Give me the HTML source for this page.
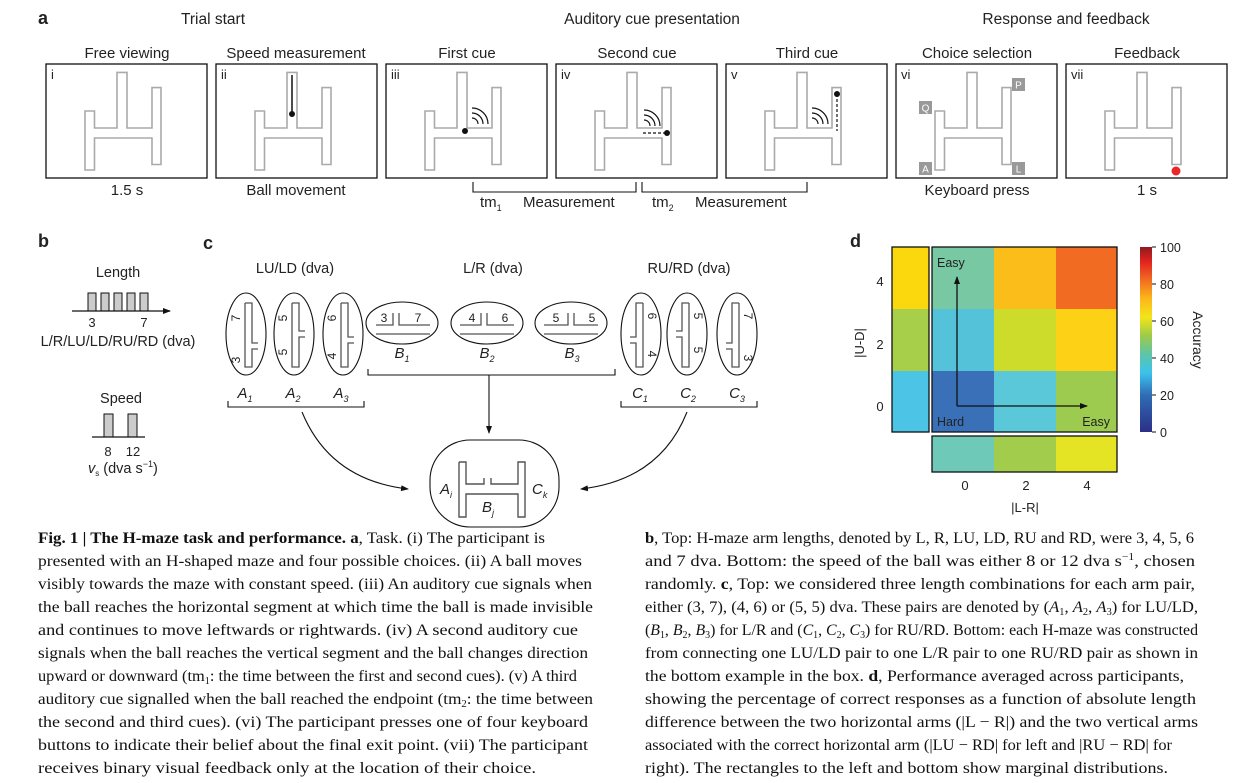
<!DOCTYPE html>
<html><head><meta charset="utf-8"><style>
html,body{margin:0;padding:0;background:#fff;}
svg{display:block;}
text{font-family:"Liberation Sans",sans-serif;fill:#222;}
.cap{font-family:"Liberation Serif",serif;font-size:16px;fill:#111;}
</style></head><body>
<svg width="1254" height="783" viewBox="0 0 1254 783" xmlns="http://www.w3.org/2000/svg">
<defs>
<g id="maze"><path d="M39,47 H48.5 V64 H71 V8.4 H81 V64 H106 V23.6 H115 V100.5 H106 V74 H48.5 V106 H39 Z" fill="none" stroke="#aaa" stroke-width="1.6"/></g>
<g id="waves" fill="none" stroke="#111" stroke-width="1.2"><path d="M0,-6 A6,6 0 0 1 6,0"/><path d="M0,-11 A11,11 0 0 1 11,0"/><path d="M0,-16 A16,16 0 0 1 16,0"/></g>
<marker id="ah" markerWidth="8" markerHeight="8" refX="7" refY="4" orient="auto" markerUnits="userSpaceOnUse"><path d="M0,1 L8,4 L0,7 Z" fill="#111"/></marker>
<linearGradient id="cb" x1="0" y1="1" x2="0" y2="0">
<stop offset="0" stop-color="#2b2f86"/><stop offset="0.2" stop-color="#2f6db5"/><stop offset="0.32" stop-color="#3cc3ec"/><stop offset="0.42" stop-color="#5ec4a8"/><stop offset="0.52" stop-color="#9ccb4a"/><stop offset="0.62" stop-color="#f2e51a"/><stop offset="0.72" stop-color="#fbb81a"/><stop offset="0.82" stop-color="#f26d21"/><stop offset="0.92" stop-color="#e2231f"/><stop offset="1" stop-color="#8e1a1e"/>
</linearGradient>
</defs>

<!-- Panel a -->
<text x="38" y="24" font-size="18" font-weight="bold">a</text>
<text x="213" y="24" font-size="15.5" text-anchor="middle">Trial start</text>
<text x="652" y="24" font-size="15.5" text-anchor="middle">Auditory cue presentation</text>
<text x="1066" y="24" font-size="15.5" text-anchor="middle">Response and feedback</text>

<g font-size="15" text-anchor="middle">
<text x="127" y="58">Free viewing</text>
<text x="296" y="58">Speed measurement</text>
<text x="467" y="58">First cue</text>
<text x="637" y="58">Second cue</text>
<text x="807" y="58">Third cue</text>
<text x="977" y="58">Choice selection</text>
<text x="1147" y="58">Feedback</text>
<text x="127" y="195">1.5 s</text>
<text x="296" y="195">Ball movement</text>
<text x="977" y="195">Keyboard press</text>
<text x="1147" y="195">1 s</text>
</g>

<g transform="translate(46,64)"><rect x="0" y="0" width="161" height="114" fill="#fff" stroke="#111" stroke-width="1.3"/><use href="#maze"/><text x="5" y="15" font-size="13">i</text></g>
<g transform="translate(216,64)"><rect x="0" y="0" width="161" height="114" fill="#fff" stroke="#111" stroke-width="1.3"/><use href="#maze"/><text x="5" y="15" font-size="13">ii</text>
<line x1="76" y1="11" x2="76" y2="50" stroke="#111" stroke-width="1.5"/><circle cx="76" cy="50" r="3" fill="#111"/></g>
<g transform="translate(386,64)"><rect x="0" y="0" width="161" height="114" fill="#fff" stroke="#111" stroke-width="1.3"/><use href="#maze"/><text x="5" y="15" font-size="13">iii</text>
<circle cx="79" cy="67" r="3" fill="#111"/><use href="#waves" transform="translate(86,60)"/></g>
<g transform="translate(556,64)"><rect x="0" y="0" width="161" height="114" fill="#fff" stroke="#111" stroke-width="1.3"/><use href="#maze"/><text x="5" y="15" font-size="13">iv</text>
<line x1="87" y1="69" x2="111" y2="69" stroke="#111" stroke-width="1.2" stroke-dasharray="3,2"/><circle cx="111" cy="69" r="3" fill="#111"/><use href="#waves" transform="translate(88,62)"/></g>
<g transform="translate(726,64)"><rect x="0" y="0" width="161" height="114" fill="#fff" stroke="#111" stroke-width="1.3"/><use href="#maze"/><text x="5" y="15" font-size="13">v</text>
<line x1="111" y1="30" x2="111" y2="67" stroke="#111" stroke-width="1.2" stroke-dasharray="3,2"/><circle cx="111" cy="30" r="3" fill="#111"/><use href="#waves" transform="translate(86,60)"/></g>
<g transform="translate(896,64)"><rect x="0" y="0" width="161" height="114" fill="#fff" stroke="#111" stroke-width="1.3"/><use href="#maze"/><text x="5" y="15" font-size="13">vi</text>
<g font-size="10" text-anchor="middle">
<rect x="23" y="37" width="13" height="13" fill="#999"/><text x="29.5" y="47.5" style="fill:#fff">Q</text>
<rect x="116" y="14" width="13" height="13" fill="#999"/><text x="122.5" y="24.5" style="fill:#fff">P</text>
<rect x="23" y="98" width="13" height="13" fill="#999"/><text x="29.5" y="108.5" style="fill:#fff">A</text>
<rect x="116" y="98" width="13" height="13" fill="#999"/><text x="122.5" y="108.5" style="fill:#fff">L</text>
</g></g>
<g transform="translate(1066,64)"><rect x="0" y="0" width="161" height="114" fill="#fff" stroke="#111" stroke-width="1.3"/><use href="#maze"/><text x="5" y="15" font-size="13">vii</text>
<circle cx="110" cy="107" r="4.5" fill="#e8262b"/></g>

<path d="M473,182 V192 H636 V182" fill="none" stroke="#111" stroke-width="1.1"/>
<path d="M642,182 V192 H807 V182" fill="none" stroke="#111" stroke-width="1.1"/>
<g font-size="15"><text x="480" y="207">tm<tspan font-size="9" baseline-shift="-4">1</tspan></text>
<text x="523" y="207">Measurement</text>
<text x="652" y="207">tm<tspan font-size="9" baseline-shift="-4">2</tspan></text>
<text x="695" y="207">Measurement</text></g>

<!-- Panel b -->
<text x="38" y="247" font-size="18" font-weight="bold">b</text>
<text x="118" y="277" font-size="14.5" text-anchor="middle">Length</text>
<g fill="#ccc" stroke="#111" stroke-width="1">
<rect x="88" y="293" width="8" height="18"/><rect x="101" y="293" width="8" height="18"/><rect x="114" y="293" width="8" height="18"/><rect x="127" y="293" width="8" height="18"/><rect x="140" y="293" width="8" height="18"/>
<rect x="104" y="414" width="9" height="23"/><rect x="128" y="414" width="9" height="23"/></g>
<line x1="72" y1="311" x2="170" y2="311" stroke="#111" stroke-width="1.2" marker-end="url(#ah)"/>
<g font-size="13" text-anchor="middle"><text x="92" y="327">3</text><text x="144" y="327">7</text>
<text x="108" y="456">8</text><text x="133" y="456">12</text></g>
<text x="118" y="346" font-size="14.5" text-anchor="middle">L/R/LU/LD/RU/RD (dva)</text>
<text x="121" y="403" font-size="14.5" text-anchor="middle">Speed</text>
<line x1="92" y1="437" x2="145" y2="437" stroke="#111" stroke-width="1.2"/>
<text x="88" y="473" font-size="14.5"><tspan font-style="italic">v</tspan><tspan font-size="8" baseline-shift="-3">s</tspan> (dva s<tspan font-size="9" baseline-shift="6">−1</tspan>)</text>

<!-- Panel c -->
<text x="203" y="249" font-size="18" font-weight="bold">c</text>
<g font-size="14.5" text-anchor="middle"><text x="295" y="273">LU/LD (dva)</text><text x="493" y="273">L/R (dva)</text><text x="689" y="273">RU/RD (dva)</text></g>

<g fill="none" stroke="#111" stroke-width="1.1">
<ellipse cx="246" cy="334" rx="20" ry="41"/><ellipse cx="294" cy="334" rx="20" ry="41"/><ellipse cx="343" cy="334" rx="20" ry="41"/>
<ellipse cx="402" cy="323" rx="36" ry="21"/><ellipse cx="487" cy="323" rx="36" ry="21"/><ellipse cx="571" cy="323" rx="36" ry="21"/>
<ellipse cx="641" cy="334" rx="20" ry="41"/><ellipse cx="687" cy="334" rx="20" ry="41"/><ellipse cx="737" cy="334" rx="20" ry="41"/>
</g>
<g fill="none" stroke="#555" stroke-width="1.3">
<!-- A shapes -->
<path d="M245,303 H252 V343 H258 M258,349 H252 V367 H245 V303"/>
<path d="M292,303 H299 V331 H305 M305,337 H299 V367 H292 V303"/>
<path d="M341,303 H348 V337 H354 M354,343 H348 V367 H341 V303"/>
<!-- C shapes -->
<path d="M643,303 H636 V337 H630 M630,343 H636 V367 H643 V303"/>
<path d="M689,303 H682 V331 H676 M676,337 H682 V367 H689 V303"/>
<path d="M739,303 H732 V343 H726 M726,349 H732 V367 H739 V303"/>
<!-- B shapes -->
<path d="M376,334 H430 M376,325 H393 V313 M399,313 V325 H430"/>
<path d="M460,334 H514 M460,325 H481 V313 M487,313 V325 H514"/>
<path d="M544,334 H598 M544,325 H568 V313 M574,313 V325 H598"/>
</g>
<g font-size="12" fill="#222">
<text transform="translate(240,318) rotate(-90)" text-anchor="middle">7</text>
<text transform="translate(240,360) rotate(-90)" text-anchor="middle">3</text>
<text transform="translate(287,318) rotate(-90)" text-anchor="middle">5</text>
<text transform="translate(287,352) rotate(-90)" text-anchor="middle">5</text>
<text transform="translate(336,318) rotate(-90)" text-anchor="middle">6</text>
<text transform="translate(336,356) rotate(-90)" text-anchor="middle">4</text>
<text transform="translate(648,316) rotate(90)" text-anchor="middle">6</text>
<text transform="translate(648,354) rotate(90)" text-anchor="middle">4</text>
<text transform="translate(694,316) rotate(90)" text-anchor="middle">5</text>
<text transform="translate(694,350) rotate(90)" text-anchor="middle">5</text>
<text transform="translate(744,316) rotate(90)" text-anchor="middle">7</text>
<text transform="translate(744,358) rotate(90)" text-anchor="middle">3</text>
<text x="384" y="322" text-anchor="middle">3</text><text x="418" y="322" text-anchor="middle">7</text>
<text x="472" y="322" text-anchor="middle">4</text><text x="505" y="322" text-anchor="middle">6</text>
<text x="556" y="322" text-anchor="middle">5</text><text x="592" y="322" text-anchor="middle">5</text>
</g>
<g font-size="15" font-style="italic" text-anchor="middle">
<text x="245" y="398">A<tspan font-size="9" baseline-shift="-4">1</tspan></text>
<text x="293" y="398">A<tspan font-size="9" baseline-shift="-4">2</tspan></text>
<text x="341" y="398">A<tspan font-size="9" baseline-shift="-4">3</tspan></text>
<text x="402" y="358">B<tspan font-size="9" baseline-shift="-4">1</tspan></text>
<text x="487" y="358">B<tspan font-size="9" baseline-shift="-4">2</tspan></text>
<text x="572" y="358">B<tspan font-size="9" baseline-shift="-4">3</tspan></text>
<text x="640" y="398">C<tspan font-size="9" baseline-shift="-4">1</tspan></text>
<text x="688" y="398">C<tspan font-size="9" baseline-shift="-4">2</tspan></text>
<text x="737" y="398">C<tspan font-size="9" baseline-shift="-4">3</tspan></text>
</g>
<g fill="none" stroke="#111" stroke-width="1.1">
<path d="M228,401 V407 H364 V401"/>
<path d="M368,369 V375 H615 V369"/>
<path d="M621,401 V407 H757 V401"/>
<line x1="489" y1="375" x2="489" y2="433" marker-end="url(#ah)"/>
<path d="M302,412 Q330,480 408,489" marker-end="url(#ah)"/>
<path d="M687,412 Q660,480 581,489" marker-end="url(#ah)"/>
<rect x="430" y="440" width="129" height="87" rx="40" ry="40"/>
</g>
<path d="M459,462 H466 V484 H484 V478 M491,478 V484 H518 V462 H525 V517 H518 V494 H466 V517 H459 V462" fill="none" stroke="#555" stroke-width="1.4"/>
<g font-size="15" font-style="italic">
<text x="440" y="494">A<tspan font-size="9" baseline-shift="-4">i</tspan></text>
<text x="532" y="494">C<tspan font-size="9" baseline-shift="-4">k</tspan></text>
<text x="482" y="512">B<tspan font-size="9" baseline-shift="-4">j</tspan></text>
</g>

<!-- Panel d -->
<text x="850" y="247" font-size="18" font-weight="bold">d</text>
<g stroke="none">
<rect x="932" y="247" width="62" height="62" fill="#79c8a4"/><rect x="994" y="247" width="62" height="62" fill="#fbbd1a"/><rect x="1056" y="247" width="61" height="62" fill="#f26b22"/>
<rect x="932" y="309" width="62" height="62" fill="#54c3d9"/><rect x="994" y="309" width="62" height="62" fill="#cddc2a"/><rect x="1056" y="309" width="61" height="62" fill="#fcd116"/>
<rect x="932" y="371" width="62" height="61" fill="#3a70b8"/><rect x="994" y="371" width="62" height="61" fill="#5ac8d8"/><rect x="1056" y="371" width="61" height="61" fill="#9ccb4f"/>
<rect x="892" y="247" width="37" height="62" fill="#fbd70e"/><rect x="892" y="309" width="37" height="62" fill="#a7cf4a"/><rect x="892" y="371" width="37" height="61" fill="#4cc4e6"/>
<rect x="932" y="436" width="62" height="36" fill="#6fc9b9"/><rect x="994" y="436" width="62" height="36" fill="#a2cc4c"/><rect x="1056" y="436" width="61" height="36" fill="#e4e425"/>
</g>
<g fill="none" stroke="#111" stroke-width="1.3">
<rect x="932" y="247" width="185" height="185"/><rect x="892" y="247" width="37" height="185"/><rect x="932" y="436" width="185" height="36"/>
<line x1="957" y1="406" x2="957" y2="277" marker-end="url(#ah)"/>
<line x1="957" y1="406" x2="1087" y2="406" marker-end="url(#ah)"/>
</g>
<g font-size="12.5"><text x="937" y="267">Easy</text><text x="937" y="426">Hard</text><text x="1110" y="426" text-anchor="end">Easy</text></g>
<g font-size="13" text-anchor="middle"><text x="880" y="286">4</text><text x="880" y="349">2</text><text x="880" y="411">0</text>
<text x="965" y="490">0</text><text x="1026" y="490">2</text><text x="1087" y="490">4</text>
<text x="1025" y="512">|L-R|</text>
<text transform="translate(864,343) rotate(-90)">|U-D|</text>
<text transform="translate(1193,340) rotate(90)" font-size="14">Accuracy</text></g>
<rect x="1140" y="247" width="12" height="185" fill="url(#cb)"/>
<g stroke="#111" stroke-width="1"><line x1="1152" y1="247" x2="1156" y2="247"/><line x1="1152" y1="284" x2="1156" y2="284"/><line x1="1152" y1="321" x2="1156" y2="321"/><line x1="1152" y1="358" x2="1156" y2="358"/><line x1="1152" y1="395" x2="1156" y2="395"/><line x1="1152" y1="432" x2="1156" y2="432"/></g>
<g font-size="12.5"><text x="1160" y="252">100</text><text x="1160" y="289">80</text><text x="1160" y="326">60</text><text x="1160" y="363">40</text><text x="1160" y="400">20</text><text x="1160" y="437">0</text></g>

<!-- Caption left -->
<g class="cap">
<text class="cap" x="38" y="543" textLength="507" lengthAdjust="spacingAndGlyphs"><tspan font-weight="bold">Fig. 1 | The H-maze task and performance. a</tspan>, Task. (i) The participant is</text>
<text class="cap" x="38" y="566" textLength="544" lengthAdjust="spacingAndGlyphs">presented with an H-shaped maze and four possible choices. (ii) A ball moves</text>
<text class="cap" x="38" y="589" textLength="554" lengthAdjust="spacingAndGlyphs">visibly towards the maze with constant speed. (iii) An auditory cue signals when</text>
<text class="cap" x="38" y="612" textLength="555" lengthAdjust="spacingAndGlyphs">the ball reaches the horizontal segment at which time the ball is made invisible</text>
<text class="cap" x="38" y="635" textLength="540" lengthAdjust="spacingAndGlyphs">and continues to move leftwards or rightwards. (iv) A second auditory cue</text>
<text class="cap" x="38" y="658" textLength="550" lengthAdjust="spacingAndGlyphs">signals when the ball reaches the vertical segment and the ball changes direction</text>
<text class="cap" x="38" y="681" textLength="539" lengthAdjust="spacingAndGlyphs">upward or downward (tm<tspan font-size="10" baseline-shift="-3">1</tspan>: the time between the first and second cues). (v) A third</text>
<text class="cap" x="38" y="704" textLength="555" lengthAdjust="spacingAndGlyphs">auditory cue signalled when the ball reached the endpoint (tm<tspan font-size="10" baseline-shift="-3">2</tspan>: the time between</text>
<text class="cap" x="38" y="727" textLength="550" lengthAdjust="spacingAndGlyphs">the second and third cues). (vi) The participant presses one of four keyboard</text>
<text class="cap" x="38" y="750" textLength="550" lengthAdjust="spacingAndGlyphs">buttons to indicate their belief about the final exit point. (vii) The participant</text>
<text class="cap" x="38" y="773" textLength="498" lengthAdjust="spacingAndGlyphs">receives binary visual feedback only at the location of their choice.</text>
<!-- right -->
<text class="cap" x="645" y="543" textLength="549" lengthAdjust="spacingAndGlyphs"><tspan font-weight="bold">b</tspan>, Top: H-maze arm lengths, denoted by L, R, LU, LD, RU and RD, were 3, 4, 5, 6</text>
<text class="cap" x="645" y="566" textLength="550" lengthAdjust="spacingAndGlyphs">and 7 dva. Bottom: the speed of the ball was either 8 or 12 dva s<tspan font-size="10" baseline-shift="6">−1</tspan>, chosen</text>
<text class="cap" x="645" y="589" textLength="550" lengthAdjust="spacingAndGlyphs">randomly. <tspan font-weight="bold">c</tspan>, Top: we considered three length combinations for each arm pair,</text>
<text class="cap" x="645" y="612" textLength="553" lengthAdjust="spacingAndGlyphs">either (3, 7), (4, 6) or (5, 5) dva. These pairs are denoted by (<tspan font-style="italic">A</tspan><tspan font-size="10" baseline-shift="-3">1</tspan>, <tspan font-style="italic">A</tspan><tspan font-size="10" baseline-shift="-3">2</tspan>, <tspan font-style="italic">A</tspan><tspan font-size="10" baseline-shift="-3">3</tspan>) for LU/LD,</text>
<text class="cap" x="645" y="635" textLength="553" lengthAdjust="spacingAndGlyphs">(<tspan font-style="italic">B</tspan><tspan font-size="10" baseline-shift="-3">1</tspan>, <tspan font-style="italic">B</tspan><tspan font-size="10" baseline-shift="-3">2</tspan>, <tspan font-style="italic">B</tspan><tspan font-size="10" baseline-shift="-3">3</tspan>) for L/R and (<tspan font-style="italic">C</tspan><tspan font-size="10" baseline-shift="-3">1</tspan>, <tspan font-style="italic">C</tspan><tspan font-size="10" baseline-shift="-3">2</tspan>, <tspan font-style="italic">C</tspan><tspan font-size="10" baseline-shift="-3">3</tspan>) for RU/RD. Bottom: each H-maze was constructed</text>
<text class="cap" x="645" y="658" textLength="553" lengthAdjust="spacingAndGlyphs">from connecting one LU/LD pair to one L/R pair to one RU/RD pair as shown in</text>
<text class="cap" x="645" y="681" textLength="539" lengthAdjust="spacingAndGlyphs">the bottom example in the box. <tspan font-weight="bold">d</tspan>, Performance averaged across participants,</text>
<text class="cap" x="645" y="704" textLength="551" lengthAdjust="spacingAndGlyphs">showing the percentage of correct responses as a function of absolute length</text>
<text class="cap" x="645" y="727" textLength="553" lengthAdjust="spacingAndGlyphs">difference between the two horizontal arms (|L − R|) and the two vertical arms</text>
<text class="cap" x="645" y="750" textLength="527" lengthAdjust="spacingAndGlyphs">associated with the correct horizontal arm (|LU − RD| for left and |RU − RD| for</text>
<text class="cap" x="645" y="773" textLength="523" lengthAdjust="spacingAndGlyphs">right). The rectangles to the left and bottom show marginal distributions.</text>
</g>
</svg>
</body></html>
